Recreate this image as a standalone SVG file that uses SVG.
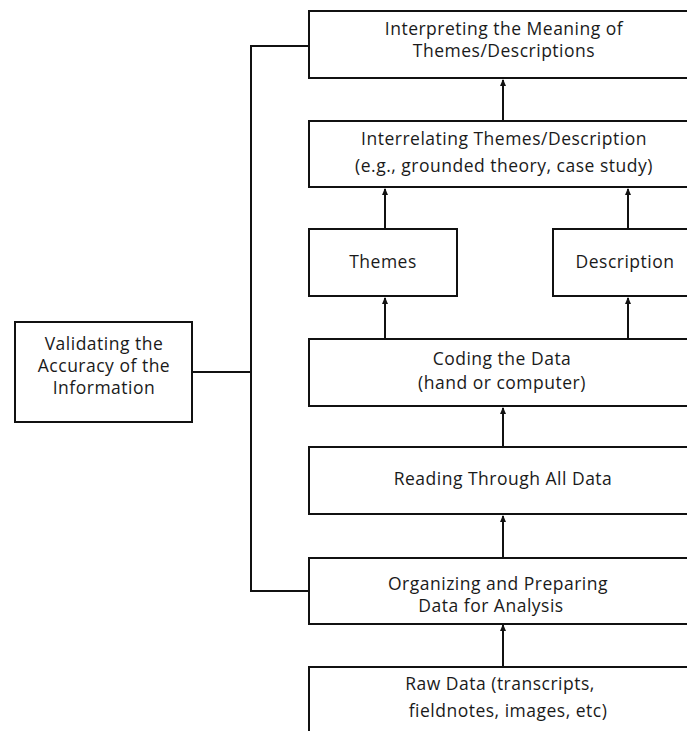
<svg xmlns="http://www.w3.org/2000/svg" width="687" height="731" viewBox="0 0 687 731">
<style>
.box{fill:#fff;stroke:#111;stroke-width:2}
.t{font-family:"Open Sans","Liberation Sans",Arial,sans-serif;font-size:17.5px;letter-spacing:0.5px;fill:#1a1a1a;text-anchor:middle}
.c{fill:none;stroke:#111;stroke-width:2}
</style>
<defs>
<marker id="ah" markerWidth="8" markerHeight="8" refX="6" refY="4" orient="auto" markerUnits="userSpaceOnUse">
<path d="M0,1 L7,4 L0,7 z" fill="#111"/>
</marker>
</defs>
<rect width="687" height="731" fill="#fff"/>
<g id="connectors">
<polyline class="c" points="309,46 251,46 251,591 309,591"/>
<line class="c" x1="192" y1="372" x2="251" y2="372"/>
<line class="c" x1="503" y1="121" x2="503" y2="80" marker-end="url(#ah)"/>
<line class="c" x1="385" y1="229" x2="385" y2="189" marker-end="url(#ah)"/>
<line class="c" x1="628" y1="229" x2="628" y2="189" marker-end="url(#ah)"/>
<line class="c" x1="385" y1="339" x2="385" y2="298" marker-end="url(#ah)"/>
<line class="c" x1="628" y1="339" x2="628" y2="298" marker-end="url(#ah)"/>
<line class="c" x1="503" y1="447" x2="503" y2="408" marker-end="url(#ah)"/>
<line class="c" x1="503" y1="558" x2="503" y2="516" marker-end="url(#ah)"/>
<line class="c" x1="503" y1="667" x2="503" y2="625" marker-end="url(#ah)"/>
</g>
<g id="interpreting">
<rect class="box" x="309" y="11" width="400" height="67"/>
<text class="t" x="504" y="35">Interpreting the Meaning of</text>
<text class="t" x="504" y="57">Themes/Descriptions</text>
</g>
<g id="interrelating">
<rect class="box" x="309" y="121" width="400" height="66"/>
<text class="t" x="504" y="145">Interrelating Themes/Description</text>
<text class="t" x="504" y="172">(e.g., grounded theory, case study)</text>
</g>
<g id="themes">
<rect class="box" x="309" y="229" width="148" height="67"/>
<text class="t" x="383" y="268">Themes</text>
</g>
<g id="description">
<rect class="box" x="553" y="229" width="160" height="67"/>
<text class="t" x="625" y="268">Description</text>
</g>
<g id="validating">
<rect class="box" x="15" y="322" width="177" height="100"/>
<text class="t" x="104" y="350">Validating the</text>
<text class="t" x="104" y="372">Accuracy of the</text>
<text class="t" x="104" y="394">Information</text>
</g>
<g id="coding">
<rect class="box" x="309" y="339" width="400" height="67"/>
<text class="t" x="502" y="365">Coding the Data</text>
<text class="t" x="502" y="389">(hand or computer)</text>
</g>
<g id="reading">
<rect class="box" x="309" y="447" width="400" height="67"/>
<text class="t" x="503" y="485">Reading Through All Data</text>
</g>
<g id="organizing">
<rect class="box" x="309" y="558" width="400" height="66"/>
<text class="t" x="498" y="590">Organizing and Preparing</text>
<text class="t" x="491" y="612">Data for Analysis</text>
</g>
<g id="raw">
<rect class="box" x="309" y="667" width="400" height="80"/>
<text class="t" x="500" y="690">Raw Data (transcripts,</text>
<text class="t" x="508" y="717">fieldnotes, images, etc)</text>
</g>
</svg>
